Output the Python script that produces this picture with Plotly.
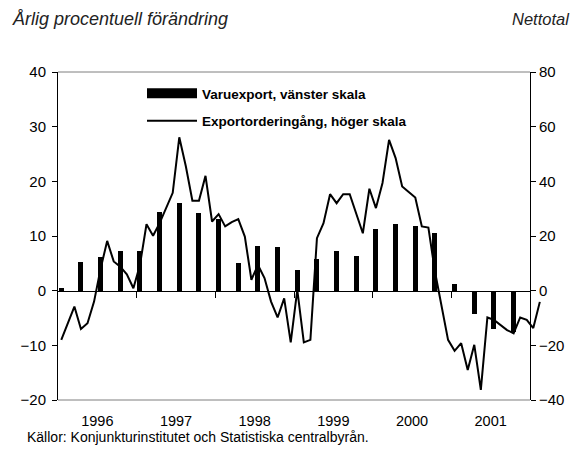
import plotly.graph_objects as go

# Monthly index (0 = Jan 1996); line series has two extra months beyond Dec 2001
years = ["1996", "1997", "1998", "1999", "2000", "2001"]

# Varuexport (quarterly, left scale, %), placed at months 0,3,6,...
export_values = [0.5, 5.3, 6.1, 7.2, 7.3, 14.4, 16.0, 14.2, 13.1, 5.0, 8.1, 8.0,
                 3.8, 5.8, 7.3, 6.4, 11.3, 12.2, 11.9, 10.5, 1.2, -4.3, -7.0, -7.6]
export_months = [3 * k for k in range(len(export_values))]

# Exportorderingång (monthly, right scale, nettotal)
orders_values = [-18.0, -12.0, -5.8, -14.0, -11.9, -4.0, 8.0, 18.2, 10.7, 8.8, 6.0, 0.9,
                 9.4, 24.3, 20.1, 24.7, 30.2, 35.8, 56.1, 45.5, 32.9, 32.9, 42.0, 25.3,
                 28.0, 23.5, 25.1, 26.2, 19.8, 4.0, 9.4, 4.6, -4.0, -9.8, -2.8, -18.9,
                 0.3, -18.9, -18.0, 19.2, 24.7, 35.3, 32.0, 35.3, 35.3, 28.4, 21.0, 37.3,
                 30.2, 39.4, 55.2, 48.5, 38.1, 36.1, 34.1, 23.5, 23.1, 7.0, -5.2, -18.0,
                 -22.0, -19.2, -29.0, -19.8, -36.3, -9.8, -10.7, -12.5, -14.4, -15.6, -9.8, -10.7,
                 -13.7, -4.1]
orders_months = list(range(len(orders_values)))

n_months = 72
year_centers = [12 * k + 5.5 for k in range(len(years))]
year_bounds = [12 * k + 11.5 for k in range(len(years))]

W, H = 580, 455
ML, MR, MT, MB = 58, 35, 72, 55
PW = W - ML - MR
PH = H - MT - MB
month_px = 472 / n_months
axis_end = 472 / PW  # paper fraction of right axis

FONT = "Liberation Sans, Arial, sans-serif"

fig = go.Figure()

fig.add_trace(go.Bar(
    x=export_months, y=export_values, width=0.75,
    marker=dict(color="black", line=dict(width=0)),
    xaxis="x", yaxis="y", showlegend=False, name="Varuexport, vänster skala",
))
# legend proxy for bars (wide black block like the original)
fig.add_trace(go.Scatter(
    x=[None], y=[None], mode="lines", line=dict(color="black", width=11),
    name="Varuexport, vänster skala", xaxis="x2", yaxis="y2", legendgroup="a",
))
fig.add_trace(go.Scatter(
    x=orders_months, y=orders_values, mode="lines",
    line=dict(color="black", width=2),
    name="Exportorderingång, höger skala", xaxis="x2", yaxis="y2", legendgroup="b",
))

fig.update_layout(
    width=W, height=H,
    margin=dict(l=ML, r=MR, t=MT, b=MB),
    paper_bgcolor="white", plot_bgcolor="rgba(0,0,0,0)",
    bargap=0,
    font=dict(family=FONT, size=16, color="black"),
    xaxis=dict(
        domain=[0, axis_end], range=[-0.5, n_months - 0.5],
        anchor="free", position=1 / 3,
        showline=True, linecolor="black", linewidth=1,
        ticks="outside", ticklen=6, tickcolor="black",
        tickvals=year_bounds, showticklabels=False,
        showgrid=False, zeroline=False,
    ),
    xaxis2=dict(
        domain=[0, 1], range=[-0.5, -0.5 + PW / month_px],
        anchor="y2", side="bottom",
        tickvals=year_centers, ticktext=years, ticks="",
        ticklabelstandoff=10,
        tickfont=dict(family=FONT, size=14.5),
        showline=False, showgrid=False, zeroline=False,
    ),
    yaxis=dict(
        domain=[0, 1], range=[-20, 40], anchor="x",
        tickvals=[-20, -10, 0, 10, 20, 30, 40],
        ticks="outside", ticklen=5, tickcolor="black",
        ticklabelstandoff=3,
        showline=True, linecolor="black", linewidth=1,
        showgrid=False, zeroline=False,
        tickfont=dict(family=FONT, size=15),
    ),
    yaxis2=dict(
        domain=[0, 1], range=[-40, 80], anchor="free", position=axis_end,
        side="right", tickvals=[-40, -20, 0, 20, 40, 60, 80],
        ticks="outside", ticklen=5, tickcolor="black",
        showline=True, linecolor="black", linewidth=1,
        showgrid=False, zeroline=False,
        tickfont=dict(family=FONT, size=15),
    ),
    legend=dict(
        x=(142 - ML) / PW, y=1 - (78 - MT) / PH, xanchor="left", yanchor="top",
        bgcolor="rgba(0,0,0,0)", borderwidth=0,
        font=dict(family=FONT, size=13.5, color="black", weight="bold"),
        itemwidth=50, tracegroupgap=7,
    ),
    shapes=[
        dict(type="line", xref="x", yref="paper", x0=-0.5, x1=n_months - 0.5, y0=1, y1=1,
             line=dict(color="#7f7f7f", width=1)),
        dict(type="line", xref="x", yref="paper", x0=-0.5, x1=n_months - 0.5, y0=0, y1=0,
             line=dict(color="#7f7f7f", width=1)),
    ],
    annotations=[
        dict(text="<i>Årlig procentuell förändring</i>", xref="paper", yref="paper",
             x=(10 - ML) / PW, y=(400 - 19) / PH, xanchor="left", yanchor="middle",
             showarrow=False, font=dict(family=FONT, size=18, color="#222")),
        dict(text="<i>Nettotal</i>", xref="paper", yref="paper",
             x=(572 - ML) / PW, y=(400 - 19) / PH, xanchor="right", yanchor="middle",
             showarrow=False, font=dict(family=FONT, size=16.5, color="#222")),
        dict(text="Källor: Konjunkturinstitutet och Statistiska centralbyrån.",
             xref="paper", yref="paper",
             x=(25 - ML) / PW, y=(400 - 437) / PH, xanchor="left", yanchor="middle",
             showarrow=False, font=dict(family=FONT, size=14, color="black")),
    ],
)

fig.write_html("out.html", config={"displayModeBar": False},
               post_script="document.body.style.margin='0';")
